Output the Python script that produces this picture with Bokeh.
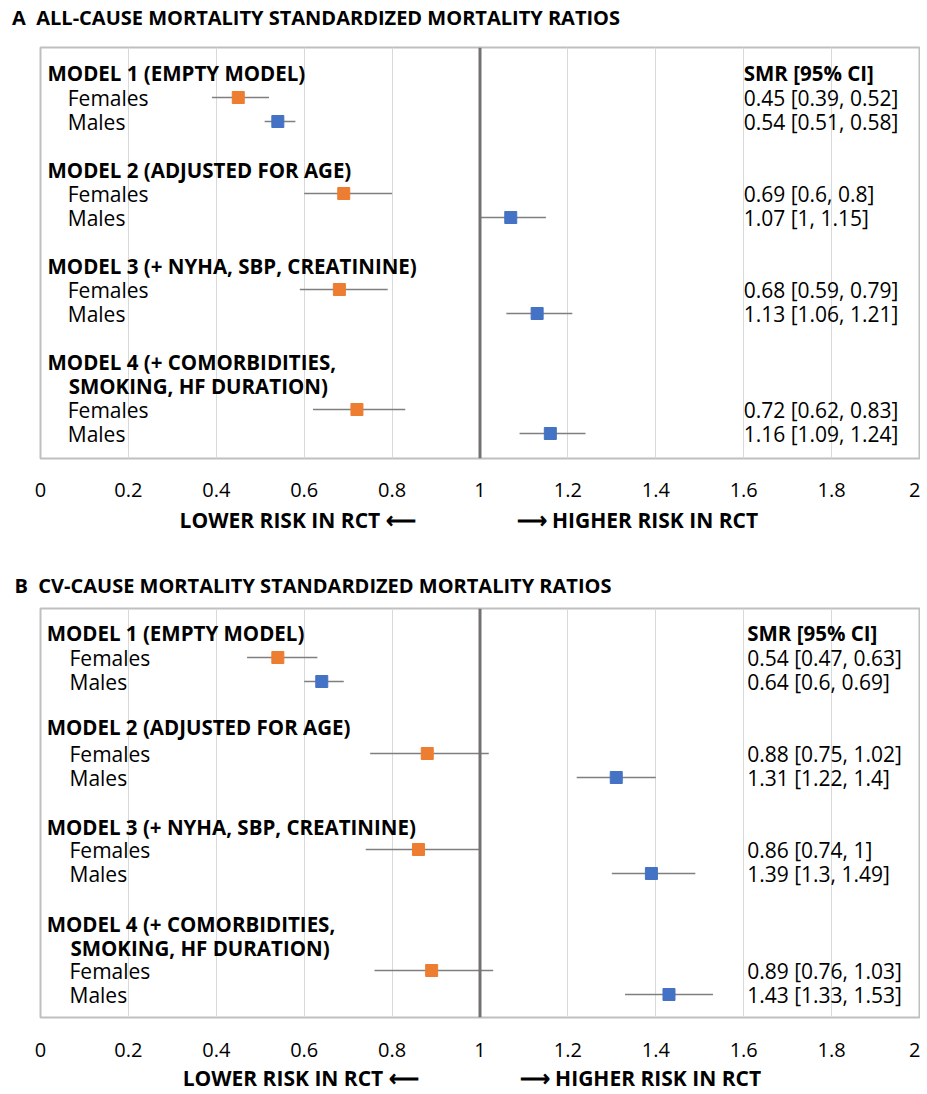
from bokeh.plotting import figure
from bokeh.models import Range1d, Span, FixedTicker, NumeralTickFormatter, LinearAxis
from bokeh.layouts import column
from bokeh.core.properties import value
from bokeh.embed import file_html
from bokeh.resources import INLINE

# ---------------- data ----------------
panel_titles = ["A\u00a0\u00a0ALL-CAUSE MORTALITY STANDARDIZED MORTALITY RATIOS",
                "B\u00a0\u00a0CV-CAUSE MORTALITY STANDARDIZED MORTALITY RATIOS"]
model_headers = ["MODEL 1 (EMPTY MODEL)", "MODEL 2 (ADJUSTED FOR AGE)",
                 "MODEL 3 (+ NYHA, SBP, CREATININE)", "MODEL 4 (+ COMORBIDITIES,"]
model4_cont = "SMOKING, HF DURATION)"
groups = ["Females", "Males"]
ci_header = "SMR [95% CI]"
x_ticks = [0, 0.2, 0.4, 0.6, 0.8, 1, 1.2, 1.4, 1.6, 1.8, 2]
lower_label = "LOWER RISK IN RCT \u27f5"
higher_label = "\u27f6 HIGHER RISK IN RCT"

# Panel A: all-cause
a_fem_smr = [0.45, 0.69, 0.68, 0.72]
a_fem_lo = [0.39, 0.6, 0.59, 0.62]
a_fem_hi = [0.52, 0.8, 0.79, 0.83]
a_male_smr = [0.54, 1.07, 1.13, 1.16]
a_male_lo = [0.51, 1.0, 1.06, 1.09]
a_male_hi = [0.58, 1.15, 1.21, 1.24]

# Panel B: CV-cause
b_fem_smr = [0.54, 0.88, 0.86, 0.89]
b_fem_lo = [0.47, 0.75, 0.74, 0.76]
b_fem_hi = [0.63, 1.02, 1.0, 1.03]
b_male_smr = [0.64, 1.31, 1.39, 1.43]
b_male_lo = [0.6, 1.22, 1.3, 1.33]
b_male_hi = [0.69, 1.4, 1.49, 1.53]

# ---------------- style / layout ----------------
ORANGE = "#ED7D31"
BLUE = "#4472C4"
GREY = "#7f7f7f"
FONT = "Open Sans"
BOLD_FS = "20.5px"
REG_FS = "21px"

# vertical row positions (pixels from frame top): headers, females, males
layouts = [
    dict(head=[25, 122, 218, 314], cont=338, fem=[50, 146, 242, 362], male=[74, 170, 266, 386],
         frame_h=411, top=47, bottom=102, height=560,
         title_pos=0.627, title_standoff=17,
         tick_standoff=24, arrow_standoff=6, arrow_pos=[0.585, 1.358],
         ci_x=1.6, head_x=0.016, sub_x=0.062),
    dict(head=[24, 118, 218, 315], cont=339, fem=[49, 145, 241, 362], male=[73, 169, 265, 386],
         frame_h=409, top=48, bottom=77, height=534,
         title_pos=0.620, title_standoff=10,
         tick_standoff=25, arrow_standoff=4, arrow_pos=[0.592, 1.365],
         ci_x=1.608, head_x=0.014, sub_x=0.066),
]

def fmt(v, lo, hi):
    return f"{v:g} [{lo:g}, {hi:g}]"

def label_axis(ticks, labels, standoff, size):
    return LinearAxis(ticker=FixedTicker(ticks=ticks),
                      major_label_overrides=dict(zip(ticks, labels)),
                      axis_line_color=None, major_tick_line_color=None,
                      minor_tick_line_color=None, major_tick_out=0, major_tick_in=0,
                      minor_tick_out=0, minor_tick_in=0,
                      major_label_standoff=standoff,
                      major_label_text_font=FONT, major_label_text_font_size=size,
                      major_label_text_font_style="bold", major_label_text_color="black")

def make_panel(title, lay, fs, fl, fh, ms, ml, mh):
    p = figure(width=920, height=lay["height"], output_backend="svg", toolbar_location=None,
               title=None, x_range=Range1d(0, 2), y_range=Range1d(lay["frame_h"], 0),
               min_border_left=40, min_border_right=1,
               min_border_top=lay["top"], min_border_bottom=lay["bottom"],
               background_fill_color="white", border_fill_color="white")
    p.outline_line_color = "#bfbfbf"
    p.outline_line_width = 2
    p.yaxis.visible = False
    p.ygrid.visible = False
    xa = p.xaxis[0]
    xa.ticker = FixedTicker(ticks=x_ticks)
    xa.formatter = NumeralTickFormatter(format="0.[0]")
    xa.axis_line_color = None
    xa.major_tick_line_color = None
    xa.minor_tick_line_color = None
    xa.major_tick_out = 0
    xa.major_tick_in = 0
    xa.minor_tick_out = 0
    xa.minor_tick_in = 0
    xa.major_label_standoff = lay["tick_standoff"]
    xa.major_label_text_font = FONT
    xa.major_label_text_font_size = "20px"
    xa.major_label_text_color = "black"
    p.xgrid.ticker = FixedTicker(ticks=x_ticks)
    p.xgrid.grid_line_color = "#d9d9d9"
    p.xgrid.grid_line_width = 1

    # panel title as a label-only axis above
    p.add_layout(label_axis([lay["title_pos"]], [title], lay["title_standoff"], "20px"), "above")
    # direction labels as a second, label-only axis below
    p.add_layout(label_axis(lay["arrow_pos"], [lower_label, higher_label],
                            lay["arrow_standoff"], "21px"), "below")

    p.add_layout(Span(location=1, dimension="height", line_color="#767171", line_width=3))

    # whiskers
    p.segment(x0=fl, x1=fh, y0=lay["fem"], y1=lay["fem"], line_color=GREY, line_width=1.5)
    p.segment(x0=ml, x1=mh, y0=lay["male"], y1=lay["male"], line_color=GREY, line_width=1.5)
    # points
    p.scatter(x=fs, y=lay["fem"], marker="square", size=12, fill_color=ORANGE, line_color=ORANGE)
    p.scatter(x=ms, y=lay["male"], marker="square", size=12, fill_color=BLUE, line_color=BLUE)

    # row labels
    p.text(x=[lay["head_x"]] * 4, y=lay["head"], text=model_headers,
           text_font=value(FONT), text_font_style="bold", text_font_size=BOLD_FS,
           text_baseline="middle", text_color="black")
    p.text(x=[lay["sub_x"] + 0.002], y=[lay["cont"]], text=[model4_cont],
           text_font=value(FONT), text_font_style="bold", text_font_size=BOLD_FS,
           text_baseline="middle", text_color="black")
    p.text(x=[lay["sub_x"]] * 8, y=lay["fem"] + lay["male"],
           text=[groups[0]] * 4 + [groups[1]] * 4,
           text_font=value(FONT), text_font_size=REG_FS,
           text_baseline="middle", text_color="black")

    # CI column
    p.text(x=[lay["ci_x"]], y=[lay["head"][0]], text=[ci_header],
           text_font=value(FONT), text_font_style="bold", text_font_size=BOLD_FS,
           text_baseline="middle", text_color="black")
    ci_texts = [fmt(*t) for t in zip(fs, fl, fh)] + [fmt(*t) for t in zip(ms, ml, mh)]
    p.text(x=[lay["ci_x"]] * 8, y=lay["fem"] + lay["male"], text=ci_texts,
           text_font=value(FONT), text_font_size=REG_FS,
           text_baseline="middle", text_color="black")
    return p

pA = make_panel(panel_titles[0], layouts[0], a_fem_smr, a_fem_lo, a_fem_hi,
                a_male_smr, a_male_lo, a_male_hi)
pB = make_panel(panel_titles[1], layouts[1], b_fem_smr, b_fem_lo, b_fem_hi,
                b_male_smr, b_male_lo, b_male_hi)

layout = column(pA, pB, spacing=0)
open("out.html", "w").write(file_html(layout, INLINE))
